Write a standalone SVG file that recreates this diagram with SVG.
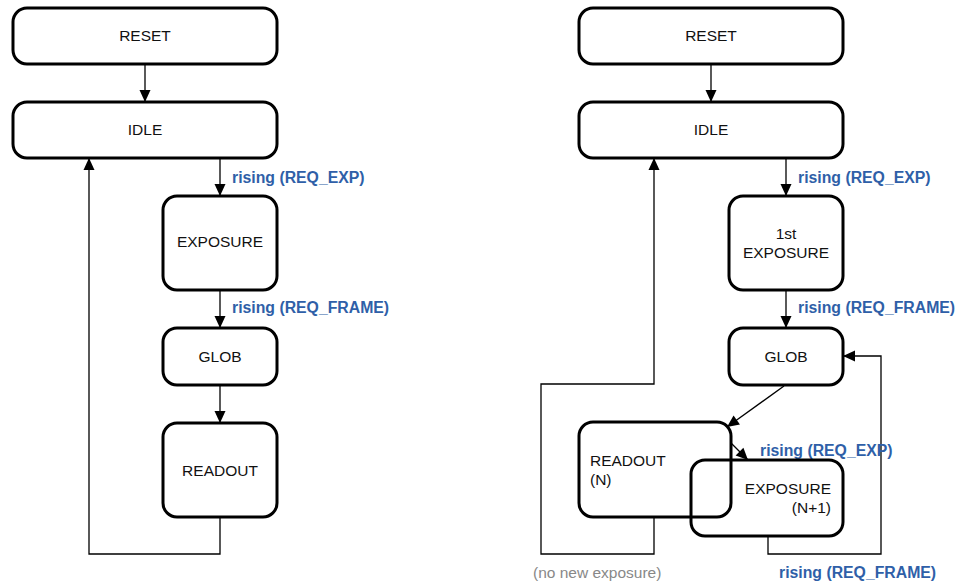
<svg xmlns="http://www.w3.org/2000/svg" width="962" height="585" viewBox="0 0 962 585">
<defs>
<marker id="ah" markerUnits="userSpaceOnUse" markerWidth="14" markerHeight="14" viewBox="0 0 14 14" refX="13" refY="7" orient="auto">
<path d="M1,1.5 L13,7 L1,12.5 Z" fill="#000"/>
</marker>
<style>
.box{fill:none;stroke:#000;stroke-width:3}
.t{font-family:"Liberation Sans",Arial,sans-serif;font-size:15.5px;fill:#111}
.c{text-anchor:middle}
.lbl{font-family:"Liberation Sans",Arial,sans-serif;font-size:15.8px;font-weight:bold;fill:#2f5fa8}
.g{font-family:"Liberation Sans",Arial,sans-serif;font-size:15.5px;fill:#888}
.ln{fill:none;stroke:#000;stroke-width:1.3}
.ar{fill:none;stroke:#000;stroke-width:1.3;marker-end:url(#ah)}
</style>
</defs>
<rect width="962" height="585" fill="#fff"/>
<g id="connectors">
<line class="ar" x1="145" y1="64" x2="145" y2="102"/>
<line class="ar" x1="220" y1="158" x2="220" y2="196"/>
<line class="ar" x1="220" y1="290" x2="220" y2="328"/>
<line class="ar" x1="220" y1="385" x2="220" y2="423"/>
<polyline class="ar" points="220,517 220,554 89,554 89,158"/>
<line class="ar" x1="711" y1="64" x2="711" y2="102"/>
<line class="ar" x1="786" y1="158" x2="786" y2="196"/>
<line class="ar" x1="786" y1="290" x2="786" y2="328"/>
<line class="ar" x1="784" y1="386" x2="727" y2="427"/>
<line class="ar" x1="731" y1="443" x2="748" y2="460"/>
<polyline class="ar" points="654,517 654,554 541,554 541,384 654,384 654,158"/>
<polyline class="ar" points="768,536 768,554 881,554 881,356 843,356"/>
<text class="lbl" x="232" y="183">rising (REQ_EXP)</text>
<text class="lbl" x="232" y="313">rising (REQ_FRAME)</text>
<text class="lbl" x="798" y="183">rising (REQ_EXP)</text>
<text class="lbl" x="798" y="313">rising (REQ_FRAME)</text>
<text class="lbl" x="760" y="456">rising (REQ_EXP)</text>
<text class="lbl" x="779" y="578">rising (REQ_FRAME)</text>
<text class="g" x="533" y="578">(no new exposure)</text>
</g>
<g id="reset-l"><rect class="box" x="13" y="8" width="264" height="56" rx="14"/><text class="t c" x="145" y="41">RESET</text></g>
<g id="idle-l"><rect class="box" x="13" y="102" width="264" height="56" rx="14"/><text class="t c" x="145" y="135">IDLE</text></g>
<g id="exposure-l"><rect class="box" x="163" y="196" width="114" height="94" rx="14"/><text class="t c" x="220" y="247">EXPOSURE</text></g>
<g id="glob-l"><rect class="box" x="163" y="328" width="114" height="57" rx="14"/><text class="t c" x="220" y="362">GLOB</text></g>
<g id="readout-l"><rect class="box" x="163" y="423" width="114" height="94" rx="14"/><text class="t c" x="220" y="476">READOUT</text></g>
<g id="reset-r"><rect class="box" x="579" y="8" width="264" height="56" rx="14"/><text class="t c" x="711" y="41">RESET</text></g>
<g id="idle-r"><rect class="box" x="579" y="102" width="264" height="56" rx="14"/><text class="t c" x="711" y="135">IDLE</text></g>
<g id="exposure1-r"><rect class="box" x="729" y="196" width="114" height="94" rx="14"/><text class="t c" x="786" y="239">1st</text><text class="t c" x="786" y="258">EXPOSURE</text></g>
<g id="glob-r"><rect class="box" x="729" y="328" width="114" height="57" rx="14"/><text class="t c" x="786" y="362">GLOB</text></g>
<g id="readout-r"><rect class="box" x="579" y="422" width="152" height="95" rx="14"/><text class="t" x="590" y="466">READOUT</text><text class="t" x="590" y="485">(N)</text></g>
<g id="exposure-n1-r"><rect class="box" x="691" y="460" width="152" height="76" rx="14"/><text class="t" x="831" y="494" text-anchor="end">EXPOSURE</text><text class="t" x="831" y="513" text-anchor="end">(N+1)</text></g>
</svg>
